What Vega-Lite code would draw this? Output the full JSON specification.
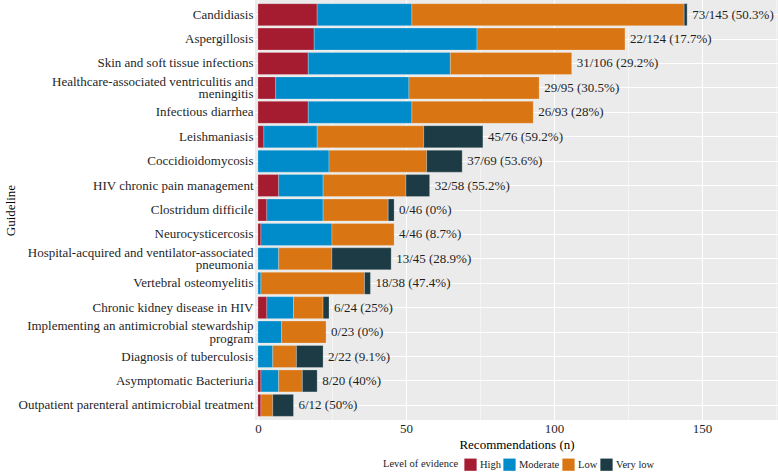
{
  "$schema": "https://vega.github.io/schema/vega-lite/v6.json",
  "width": 523,
  "height": 420,
  "autosize": {"type": "none"},
  "padding": {"left": 255, "top": 0, "right": 0, "bottom": 55},
  "background": "#ffffff",
  "config": {
    "font": "Liberation Serif",
    "view": {"fill": "#EBEBEB", "stroke": null},
    "axis": {"labelFont": "Liberation Serif", "titleFont": "Liberation Serif", "titleFontWeight": "normal"},
    "legend": {"labelFont": "Liberation Serif", "titleFont": "Liberation Serif", "titleFontWeight": "normal"},
    "text": {"font": "Liberation Serif"}
  },
  "datasets": {
    "segs": [
      {"g": "Candidiasis", "level": "High", "n": 20},
      {"g": "Candidiasis", "level": "Moderate", "n": 32},
      {"g": "Candidiasis", "level": "Low", "n": 92},
      {"g": "Candidiasis", "level": "Very low", "n": 1},
      {"g": "Aspergillosis", "level": "High", "n": 19},
      {"g": "Aspergillosis", "level": "Moderate", "n": 55},
      {"g": "Aspergillosis", "level": "Low", "n": 50},
      {"g": "Skin and soft tissue infections", "level": "High", "n": 17},
      {"g": "Skin and soft tissue infections", "level": "Moderate", "n": 48},
      {"g": "Skin and soft tissue infections", "level": "Low", "n": 41},
      {"g": "Healthcare-associated ventriculitis and meningitis", "level": "High", "n": 6},
      {"g": "Healthcare-associated ventriculitis and meningitis", "level": "Moderate", "n": 45},
      {"g": "Healthcare-associated ventriculitis and meningitis", "level": "Low", "n": 44},
      {"g": "Infectious diarrhea", "level": "High", "n": 17},
      {"g": "Infectious diarrhea", "level": "Moderate", "n": 35},
      {"g": "Infectious diarrhea", "level": "Low", "n": 41},
      {"g": "Leishmaniasis", "level": "High", "n": 2},
      {"g": "Leishmaniasis", "level": "Moderate", "n": 18},
      {"g": "Leishmaniasis", "level": "Low", "n": 36},
      {"g": "Leishmaniasis", "level": "Very low", "n": 20},
      {"g": "Coccidioidomycosis", "level": "Moderate", "n": 24},
      {"g": "Coccidioidomycosis", "level": "Low", "n": 33},
      {"g": "Coccidioidomycosis", "level": "Very low", "n": 12},
      {"g": "HIV chronic pain management", "level": "High", "n": 7},
      {"g": "HIV chronic pain management", "level": "Moderate", "n": 15},
      {"g": "HIV chronic pain management", "level": "Low", "n": 28},
      {"g": "HIV chronic pain management", "level": "Very low", "n": 8},
      {"g": "Clostridum difficile", "level": "High", "n": 3},
      {"g": "Clostridum difficile", "level": "Moderate", "n": 19},
      {"g": "Clostridum difficile", "level": "Low", "n": 22},
      {"g": "Clostridum difficile", "level": "Very low", "n": 2},
      {"g": "Neurocysticercosis", "level": "High", "n": 1},
      {"g": "Neurocysticercosis", "level": "Moderate", "n": 24},
      {"g": "Neurocysticercosis", "level": "Low", "n": 21},
      {"g": "Hospital-acquired and ventilator-associated pneumonia", "level": "Moderate", "n": 7},
      {"g": "Hospital-acquired and ventilator-associated pneumonia", "level": "Low", "n": 18},
      {"g": "Hospital-acquired and ventilator-associated pneumonia", "level": "Very low", "n": 20},
      {"g": "Vertebral osteomyelitis", "level": "Moderate", "n": 1},
      {"g": "Vertebral osteomyelitis", "level": "Low", "n": 35},
      {"g": "Vertebral osteomyelitis", "level": "Very low", "n": 2},
      {"g": "Chronic kidney disease in HIV", "level": "High", "n": 3},
      {"g": "Chronic kidney disease in HIV", "level": "Moderate", "n": 9},
      {"g": "Chronic kidney disease in HIV", "level": "Low", "n": 10},
      {"g": "Chronic kidney disease in HIV", "level": "Very low", "n": 2},
      {"g": "Implementing an antimicrobial stewardship program", "level": "Moderate", "n": 8},
      {"g": "Implementing an antimicrobial stewardship program", "level": "Low", "n": 15},
      {"g": "Diagnosis of tuberculosis", "level": "Moderate", "n": 5},
      {"g": "Diagnosis of tuberculosis", "level": "Low", "n": 8},
      {"g": "Diagnosis of tuberculosis", "level": "Very low", "n": 9},
      {"g": "Asymptomatic Bacteriuria", "level": "High", "n": 1},
      {"g": "Asymptomatic Bacteriuria", "level": "Moderate", "n": 6},
      {"g": "Asymptomatic Bacteriuria", "level": "Low", "n": 8},
      {"g": "Asymptomatic Bacteriuria", "level": "Very low", "n": 5},
      {"g": "Outpatient parenteral antimicrobial treatment", "level": "High", "n": 1},
      {"g": "Outpatient parenteral antimicrobial treatment", "level": "Low", "n": 4},
      {"g": "Outpatient parenteral antimicrobial treatment", "level": "Very low", "n": 7}
    ],
    "totals": [
      {"g": "Candidiasis", "total": 145, "label": "73/145 (50.3%)"},
      {"g": "Aspergillosis", "total": 124, "label": "22/124 (17.7%)"},
      {"g": "Skin and soft tissue infections", "total": 106, "label": "31/106 (29.2%)"},
      {"g": "Healthcare-associated ventriculitis and meningitis", "total": 95, "label": "29/95 (30.5%)"},
      {"g": "Infectious diarrhea", "total": 93, "label": "26/93 (28%)"},
      {"g": "Leishmaniasis", "total": 76, "label": "45/76 (59.2%)"},
      {"g": "Coccidioidomycosis", "total": 69, "label": "37/69 (53.6%)"},
      {"g": "HIV chronic pain management", "total": 58, "label": "32/58 (55.2%)"},
      {"g": "Clostridum difficile", "total": 46, "label": "0/46 (0%)"},
      {"g": "Neurocysticercosis", "total": 46, "label": "4/46 (8.7%)"},
      {"g": "Hospital-acquired and ventilator-associated pneumonia", "total": 45, "label": "13/45 (28.9%)"},
      {"g": "Vertebral osteomyelitis", "total": 38, "label": "18/38 (47.4%)"},
      {"g": "Chronic kidney disease in HIV", "total": 24, "label": "6/24 (25%)"},
      {"g": "Implementing an antimicrobial stewardship program", "total": 23, "label": "0/23 (0%)"},
      {"g": "Diagnosis of tuberculosis", "total": 22, "label": "2/22 (9.1%)"},
      {"g": "Asymptomatic Bacteriuria", "total": 20, "label": "8/20 (40%)"},
      {"g": "Outpatient parenteral antimicrobial treatment", "total": 12, "label": "6/12 (50%)"}
    ]
  },
  "layer": [
    {
      "data": {"name": "segs"},
      "transform": [
        {"calculate": "indexof(['High', 'Moderate', 'Low', 'Very low'], datum.level)", "as": "lvlorder"}
      ],
      "mark": {"type": "bar", "stroke": "#ffffff", "strokeWidth": 0.4, "strokeOpacity": 0.6},
      "encoding": {
        "y": {
          "field": "g", "type": "nominal",
          "sort": ["Candidiasis", "Aspergillosis", "Skin and soft tissue infections", "Healthcare-associated ventriculitis and meningitis", "Infectious diarrhea", "Leishmaniasis", "Coccidioidomycosis", "HIV chronic pain management", "Clostridum difficile", "Neurocysticercosis", "Hospital-acquired and ventilator-associated pneumonia", "Vertebral osteomyelitis", "Chronic kidney disease in HIV", "Implementing an antimicrobial stewardship program", "Diagnosis of tuberculosis", "Asymptomatic Bacteriuria", "Outpatient parenteral antimicrobial treatment"],
          "scale": {"paddingInner": 0.1, "paddingOuter": 0.15},
          "axis": {
            "title": "Guideline", "titleFontSize": 13, "titleColor": "#000000", "titlePadding": 38,
            "titleFont": "Liberation Serif", "labelFont": "Liberation Serif",
            "labelFontSize": 13, "labelColor": "#1f1f1f", "labelPadding": 2, "labelLimit": 300,
            "labelLineHeight": 12.5,
            "labelOffset": {"condition": {"test": "length(datum.value) > 47", "value": -6}, "value": 0},
            "labelExpr": "length(datum.label) > 47 ? [substring(datum.label, 0, lastindexof(datum.label, ' ')), substring(datum.label, lastindexof(datum.label, ' ') + 1)] : datum.label",
            "ticks": false, "tickSize": 0, "domain": false,
            "grid": true, "gridColor": "#ffffff", "gridWidth": 1, "bandPosition": 0.5
          }
        },
        "x": {
          "aggregate": "sum", "field": "n", "type": "quantitative", "stack": "zero",
          "scale": {"domain": [-1, 175.7], "nice": false, "zero": false},
          "axis": {
            "title": "Recommendations (n)", "titleFontSize": 13, "titleColor": "#000000", "titlePadding": 3,
            "titleFont": "Liberation Serif", "labelFont": "Liberation Serif",
            "values": [0, 25, 50, 75, 100, 125, 150, 175],
            "labelExpr": "datum.value % 50 === 0 ? datum.label : ''",
            "labelFontSize": 13, "labelColor": "#1f1f1f", "labelPadding": 2,
            "ticks": false, "tickSize": 0, "domain": false,
            "grid": true, "gridColor": "#ffffff",
            "gridWidth": {"condition": {"test": "datum.value % 50 === 0", "value": 1.1}, "value": 0.5}
          }
        },
        "color": {
          "field": "level", "type": "nominal",
          "sort": ["High", "Moderate", "Low", "Very low"],
          "scale": {"domain": ["High", "Moderate", "Low", "Very low"], "range": ["#A51C30", "#008BCA", "#D97613", "#1C3B44"]},
          "legend": {
            "title": "Level of evidence", "orient": "none", "direction": "horizontal",
            "legendX": 128, "legendY": 458,
            "titleOrient": "left", "titleFontSize": 10.5, "titleColor": "#222222", "titlePadding": 5,
            "titleFont": "Liberation Serif", "labelFont": "Liberation Serif",
            "labelFontSize": 10.5, "labelColor": "#222222", "labelOffset": 3,
            "symbolType": "square", "symbolSize": 150, "symbolStrokeWidth": 0, "symbolOpacity": 1,
            "columnPadding": 2
          }
        },
        "order": {"field": "lvlorder", "type": "quantitative", "sort": "ascending"}
      }
    },
    {
      "data": {"name": "totals"},
      "mark": {"type": "text", "align": "left", "baseline": "middle", "dx": 5, "fontSize": 13, "color": "#1f1f1f", "font": "Liberation Serif"},
      "encoding": {
        "y": {
          "field": "g", "type": "nominal",
          "sort": ["Candidiasis", "Aspergillosis", "Skin and soft tissue infections", "Healthcare-associated ventriculitis and meningitis", "Infectious diarrhea", "Leishmaniasis", "Coccidioidomycosis", "HIV chronic pain management", "Clostridum difficile", "Neurocysticercosis", "Hospital-acquired and ventilator-associated pneumonia", "Vertebral osteomyelitis", "Chronic kidney disease in HIV", "Implementing an antimicrobial stewardship program", "Diagnosis of tuberculosis", "Asymptomatic Bacteriuria", "Outpatient parenteral antimicrobial treatment"]
        },
        "x": {"field": "total", "type": "quantitative"},
        "text": {"field": "label"}
      }
    }
  ]
}
